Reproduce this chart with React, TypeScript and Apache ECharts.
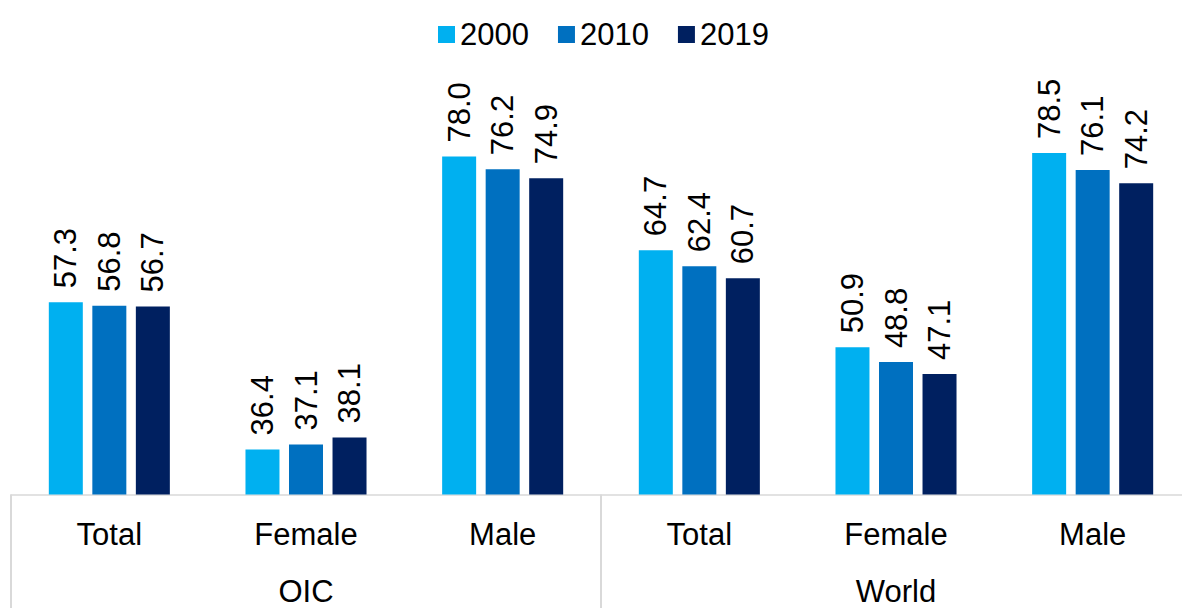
import React, { useEffect, useRef } from "react";
import * as echarts from "echarts";

const categories = ["Total", "Female", "Male", "Total", "Female", "Male"];
const groups = ["OIC", "World"];
const seriesNames = ["2000", "2010", "2019"];
const values2000 = [57.3, 36.4, 78.0, 64.7, 50.9, 78.5];
const values2010 = [56.8, 37.1, 76.2, 62.4, 48.8, 76.1];
const values2019 = [56.7, 38.1, 74.9, 60.7, 47.1, 74.2];
const colors = ["#00B0F0", "#0070C0", "#002060"];

const FONT = "'Liberation Sans', Arial, sans-serif";

export default function App() {
  const ref = useRef<HTMLDivElement>(null);
  useEffect(() => {
    document.body.style.margin = "0";
    document.body.style.overflow = "hidden";
    document.documentElement.style.overflow = "hidden";
    const chart = echarts.init(ref.current!, undefined, { renderer: "svg" });
    const data = [values2000, values2010, values2019];
    chart.setOption({
      animation: false,
      textStyle: { fontFamily: FONT },
      legend: {
        top: 14,
        left: 433,
        itemWidth: 17,
        itemHeight: 17,
        itemGap: 29,
        icon: "rect",
        data: seriesNames,
        textStyle: { fontSize: 31, color: "#000", fontFamily: FONT },
      },
      grid: { left: 11, right: 0, top: 72, bottom: 113.5 },
      xAxis: [
        {
          type: "category",
          data: categories,
          position: "bottom",
          axisLine: { show: true, lineStyle: { color: "#D9D9D9", width: 1.5 } },
          axisTick: { show: false },
          axisLabel: { fontSize: 31, color: "#000", margin: 24, fontFamily: FONT },
        },
        {
          type: "category",
          data: groups,
          position: "bottom",
          axisLine: { show: false },
          axisTick: { show: true, length: 130, lineStyle: { color: "#D9D9D9", width: 2 } },
          axisLabel: { fontSize: 31, color: "#000", margin: 81, fontFamily: FONT },
        },
      ],
      yAxis: {
        type: "value",
        min: 30,
        max: 90,
        show: false,
        splitLine: { show: false },
      },
      series: seriesNames.map((name, i) => ({
        name,
        type: "bar",
        xAxisIndex: 0,
        data: data[i],
        barWidth: 34,
        barGap: "28%",
        itemStyle: { color: colors[i] },
        label: {
          show: true,
          position: "top",
          rotate: 90,
          align: "left",
          verticalAlign: "middle",
          distance: 14,
          fontSize: 31,
          color: "#000",
          fontFamily: FONT,
          formatter: (p: any) => p.value.toFixed(1),
        },
      })),
    });
    return () => chart.dispose();
  }, []);
  return <div ref={ref} style={{ width: 1191, height: 608 }} />;
}
